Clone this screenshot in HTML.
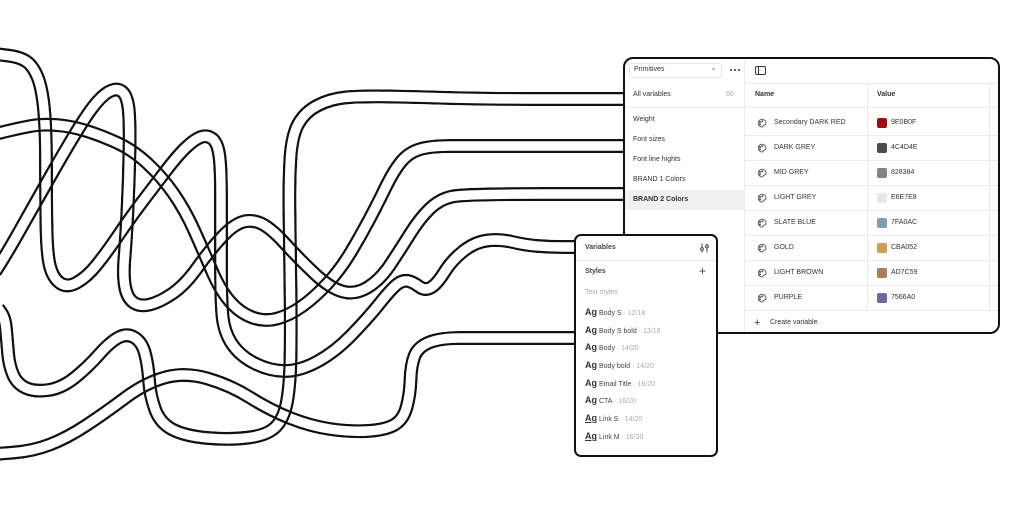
<!DOCTYPE html>
<html><head><meta charset="utf-8">
<style>
html,body{margin:0;padding:0;background:#fff;}
body{width:1024px;height:519px;overflow:hidden;position:relative;font-family:"Liberation Sans",sans-serif;}
.a{position:absolute;}
.t{position:absolute;font:7px/10px "Liberation Sans",sans-serif;color:#333;white-space:nowrap;}
.g{color:#aaa;}
.b{font-weight:bold;}
.hl{position:absolute;height:1px;background:#ebebeb;}
.vl{position:absolute;width:1px;background:#ebebeb;}
.sw{position:absolute;width:10px;height:10px;border-radius:2px;}
.r{position:absolute;left:585px;font:7px/12px "Liberation Sans",sans-serif;color:#444;white-space:nowrap;}
.r i{font-style:normal;display:inline-block;width:14px;font:bold 9px/12px "Liberation Sans",sans-serif;color:#333;}
.r i.u{text-decoration:underline;}
.dot{position:absolute;width:2px;height:2px;border-radius:1px;background:#333;top:69px;}
</style></head><body>

<svg class="a" style="left:0;top:0" width="1024" height="519" viewBox="0 0 1024 519">
<defs>
<path id="pA" d="M-2 308 L1.5 313 Q5 318 6 329 Q7 340 8 352.5 Q9 365 13 374.5 Q17 384 26 388 Q35 392 48.5 390 Q62 388 75 377.5 Q88 367 99 354.5 Q110 342 118.5 337.5 Q127 333 134.5 337.5 Q142 342 145 353.5 Q148 365 149 380 Q150 395 155 409 Q160 423 172.5 429.5 Q185 436 207.5 438 Q230 440 249 437.5 Q268 435 276 426.5 Q284 418 287 401.5 Q290 385 290.5 357.5 Q291 330 290.5 290 Q290 250 289.5 215 Q289 180 290.5 157.5 Q292 135 298.5 123.5 Q305 112 317.5 105.5 Q330 99 345 97.5 Q360 96 390 96.5 Q420 97 450 98 Q480 99 553.5 99 L627 99"/>
<path id="pB" d="M-5 134 L7.5 131 Q20 128 31 126 Q42 124 56 125 Q70 126 85 130.5 Q100 135 116.5 142.5 Q133 150 147.5 163.5 Q162 177 173.5 193.5 Q185 210 194 230 Q203 250 211.5 270 Q220 290 230 301.5 Q240 313 252.5 317.5 Q265 322 277.5 318.5 Q290 315 302.5 306 Q315 297 327.5 283.5 Q340 270 350 253.5 Q360 237 369 220 Q378 203 385.5 187.5 Q393 172 400.5 162.5 Q408 153 419 149.5 Q430 146 450 146 Q470 146 548.5 146 L627 146"/>
<path id="pC" d="M-5 272 L2.5 260 Q10 248 21.5 227.5 Q33 207 50 177 Q67 147 78.5 128.5 Q90 110 97.5 101.5 Q105 93 111.5 90.5 Q118 88 122.5 92 Q127 96 128.5 108 Q130 120 129.5 150 Q129 180 127.5 210 Q126 240 124.5 257.5 Q123 275 125 286.5 Q127 298 133.5 302.5 Q140 307 150 304.5 Q160 302 172.5 293.5 Q185 285 197.5 267.5 Q210 250 221 238 Q232 226 241 222.5 Q250 219 260 223 Q270 227 285 243.5 Q300 260 315 274 Q330 288 342.5 291.5 Q355 295 367.5 287.5 Q380 280 390 265 Q400 250 410 234 Q420 218 430 208.5 Q440 199 452.5 196.5 Q465 194 546 194 L627 194"/>
<path id="pD" d="M-5 54 L7.5 55.5 Q20 57 26.5 61.5 Q33 66 37.5 77 Q42 88 44 109 Q46 130 46 165 Q46 200 46.5 227.5 Q47 255 50 266.5 Q53 278 60 283 Q67 288 77 282.5 Q87 277 97 264.5 Q107 252 118.5 235 Q130 218 142.5 201.5 Q155 185 166.5 170 Q178 155 186.5 147 Q195 139 201 137 Q207 135 212 138.5 Q217 142 219 153.5 Q221 165 221 197.5 Q221 230 221 265 Q221 300 222.5 316 Q224 332 232 344 Q240 356 255 363.5 Q270 371 285 371 Q300 371 317.5 361.5 Q335 352 351.5 335 Q368 318 380 303 Q392 288 397.5 284 Q403 280 408 281 Q413 282 419 286.5 Q425 291 431 287.5 Q437 284 444.5 272 Q452 260 463.5 251 Q475 242 487.5 240.5 Q500 239 512.5 242 Q525 245 537.5 246 Q550 247 563.5 247 L577 247"/>
<path id="pE" d="M-5 454 L14 452.5 Q33 451 50 444.5 Q67 438 86 425.5 Q105 413 125 398 Q145 383 165 377.5 Q185 372 207.5 378.5 Q230 385 250 397.5 Q270 410 290 418 Q310 426 330 429 Q350 432 367.5 431 Q385 430 394 425 Q403 420 406.5 407.5 Q410 395 410.5 380 Q411 365 414.5 356 Q418 347 429 342.5 Q440 338 460 338 Q480 338 528.5 338 L577 338"/>
<mask id="mA" maskUnits="userSpaceOnUse" x="-20" y="-20" width="1100" height="600"><use href="#pA" fill="none" stroke="#fff" stroke-width="14"/><use href="#pA" fill="none" stroke="#000" stroke-width="9.4"/></mask>
<mask id="mB" maskUnits="userSpaceOnUse" x="-20" y="-20" width="1100" height="600"><use href="#pB" fill="none" stroke="#fff" stroke-width="14"/><use href="#pB" fill="none" stroke="#000" stroke-width="9.4"/></mask>
<mask id="mC" maskUnits="userSpaceOnUse" x="-20" y="-20" width="1100" height="600"><use href="#pC" fill="none" stroke="#fff" stroke-width="14"/><use href="#pC" fill="none" stroke="#000" stroke-width="9.4"/></mask>
<mask id="mD" maskUnits="userSpaceOnUse" x="-20" y="-20" width="1100" height="600"><use href="#pD" fill="none" stroke="#fff" stroke-width="14"/><use href="#pD" fill="none" stroke="#000" stroke-width="9.4"/></mask>
<mask id="mE" maskUnits="userSpaceOnUse" x="-20" y="-20" width="1100" height="600"><use href="#pE" fill="none" stroke="#fff" stroke-width="14"/><use href="#pE" fill="none" stroke="#000" stroke-width="9.4"/></mask>
</defs>
<use href="#pA" fill="none" stroke="#111" stroke-width="14" mask="url(#mA)"/>
<use href="#pB" fill="none" stroke="#111" stroke-width="14" mask="url(#mB)"/>
<use href="#pC" fill="none" stroke="#111" stroke-width="14" mask="url(#mC)"/>
<use href="#pD" fill="none" stroke="#111" stroke-width="14" mask="url(#mD)"/>
<use href="#pE" fill="none" stroke="#111" stroke-width="14" mask="url(#mE)"/>
</svg>

<!-- Main panel -->
<div class="a" style="left:623px;top:57px;width:377px;height:277px;box-sizing:border-box;border:2.5px solid #111;border-radius:10px;background:#fff;"></div>
<div class="a" style="left:629px;top:63px;width:91px;height:13px;border:1px solid #e6e6e6;border-radius:3px;"></div>
<div class="t" style="left:634px;top:65px;">Primitives</div>
<div class="t g" style="left:712px;top:65px;font-size:6px;">▾</div>
<div class="dot" style="left:730px;"></div>
<div class="dot" style="left:734px;"></div>
<div class="dot" style="left:738px;"></div>
<div class="vl" style="left:744px;top:60px;height:272px;"></div>
<div class="a" style="left:755px;top:66px;width:9px;height:7px;border:1.2px solid #333;border-radius:2px;"></div>
<div class="a" style="left:758px;top:67px;width:1.2px;height:7px;background:#333;"></div>
<div class="hl" style="left:744px;top:83px;width:254px;"></div>
<div class="t" style="left:633px;top:90px;">All variables</div>
<div class="t g" style="left:726px;top:90px;">66</div>
<div class="hl" style="left:625px;top:107px;width:373px;"></div>
<div class="t" style="left:633px;top:115px;">Weight</div>
<div class="t" style="left:633px;top:135px;">Font sizes</div>
<div class="t" style="left:633px;top:155px;">Font line hights</div>
<div class="t" style="left:633px;top:175px;">BRAND 1 Colors</div>
<div class="a" style="left:625px;top:190px;width:119px;height:20px;background:#f1f1f1;"></div>
<div class="t b" style="left:633px;top:195px;">BRAND 2 Colors</div>
<div class="t b" style="left:755px;top:90px;">Name</div>
<div class="t b" style="left:877px;top:90px;">Value</div>
<div class="vl" style="left:867px;top:83px;height:227px;"></div>
<div class="vl" style="left:989px;top:83px;height:227px;"></div>
<div class="hl" style="left:744px;top:135px;width:254px;"></div>
<div class="hl" style="left:744px;top:160px;width:254px;"></div>
<div class="hl" style="left:744px;top:185px;width:254px;"></div>
<div class="hl" style="left:744px;top:210px;width:254px;"></div>
<div class="hl" style="left:744px;top:235px;width:254px;"></div>
<div class="hl" style="left:744px;top:260px;width:254px;"></div>
<div class="hl" style="left:744px;top:285px;width:254px;"></div>
<div class="hl" style="left:744px;top:310px;width:254px;"></div>

<svg class="a" style="left:756px;top:117px" width="12" height="190" viewBox="0 0 12 190">
<g fill="none" stroke="#555" stroke-width="0.9">
<g id="pal"><path d="M6 2.2 A3.9 3.9 0 1 0 6.3 10 C7.4 10 7 8.6 7.6 8.2 C8.3 7.8 10 8.4 10 6.4 A4 4 0 0 0 6 2.2 Z"/><circle cx="4" cy="5" r="0.6"/><circle cx="6.3" cy="4.3" r="0.6"/><circle cx="4" cy="7.4" r="0.6"/></g>
<use href="#pal" y="25"/><use href="#pal" y="50"/><use href="#pal" y="75"/><use href="#pal" y="100"/><use href="#pal" y="125"/><use href="#pal" y="150"/><use href="#pal" y="175"/>
</g></svg>

<div class="t" style="left:774px;top:118px;">Secondary DARK RED</div>
<div class="t" style="left:774px;top:143px;">DARK GREY</div>
<div class="t" style="left:774px;top:168px;">MID GREY</div>
<div class="t" style="left:774px;top:193px;">LIGHT GREY</div>
<div class="t" style="left:774px;top:218px;">SLATE BLUE</div>
<div class="t" style="left:774px;top:243px;">GOLD</div>
<div class="t" style="left:774px;top:268px;">LIGHT BROWN</div>
<div class="t" style="left:774px;top:293px;">PURPLE</div>

<div class="sw" style="left:877px;top:118px;background:#9E0B0F;"></div>
<div class="sw" style="left:877px;top:143px;background:#4C4D4E;"></div>
<div class="sw" style="left:877px;top:168px;background:#828384;"></div>
<div class="sw" style="left:877px;top:193px;background:#E6E7E8;"></div>
<div class="sw" style="left:877px;top:218px;background:#7FA0AC;"></div>
<div class="sw" style="left:877px;top:243px;background:#CBA052;"></div>
<div class="sw" style="left:877px;top:268px;background:#AD7C59;"></div>
<div class="sw" style="left:877px;top:293px;background:#7566A0;"></div>

<div class="t" style="left:891px;top:118px;">9E0B0F</div>
<div class="t" style="left:891px;top:143px;">4C4D4E</div>
<div class="t" style="left:891px;top:168px;">828384</div>
<div class="t" style="left:891px;top:193px;">E6E7E8</div>
<div class="t" style="left:891px;top:218px;">7FA0AC</div>
<div class="t" style="left:891px;top:243px;">CBA052</div>
<div class="t" style="left:891px;top:268px;">AD7C59</div>
<div class="t" style="left:891px;top:293px;">7566A0</div>

<div class="t" style="left:754px;top:316px;font-size:11px;line-height:14px;color:#333;">+</div>
<div class="t" style="left:770px;top:318px;">Create variable</div>

<!-- Small panel -->
<div class="a" style="left:574px;top:234px;width:144px;height:223px;box-sizing:border-box;border:2.5px solid #111;border-radius:7px;background:#fff;"></div>
<div class="t b" style="left:585px;top:243px;color:#444;">Variables</div>
<svg class="a" style="left:699px;top:243px" width="11" height="10" viewBox="0 0 11 10">
<g stroke="#444" stroke-width="1" fill="#fff"><line x1="3" y1="0.5" x2="3" y2="9.5"/><line x1="8" y1="0.5" x2="8" y2="9.5"/><circle cx="3" cy="6" r="1.4"/><circle cx="8" cy="3.5" r="1.4"/></g></svg>
<div class="hl" style="left:576px;top:260px;width:140px;"></div>
<div class="t b" style="left:585px;top:267px;color:#444;">Styles</div>
<div class="t" style="left:699px;top:264px;font-size:12px;line-height:15px;color:#444;">+</div>
<div class="t g" style="left:585px;top:288px;">Text styles</div>

<div class="r" style="top:306px;"><i>Ag</i>Body S <span class="g">· 12/18</span></div>
<div class="r" style="top:324px;"><i>Ag</i>Body S bold <span class="g">· 12/16</span></div>
<div class="r" style="top:341px;"><i>Ag</i>Body <span class="g">· 14/20</span></div>
<div class="r" style="top:359px;"><i>Ag</i>Body bold <span class="g">· 14/20</span></div>
<div class="r" style="top:377px;"><i>Ag</i>Email Title <span class="g">· 16/20</span></div>
<div class="r" style="top:394px;"><i>Ag</i>CTA <span class="g">· 16/20</span></div>
<div class="r" style="top:412px;"><i class="u">Ag</i>Link S <span class="g">· 14/20</span></div>
<div class="r" style="top:430px;"><i class="u">Ag</i>Link M <span class="g">· 16/20</span></div>

</body></html>
